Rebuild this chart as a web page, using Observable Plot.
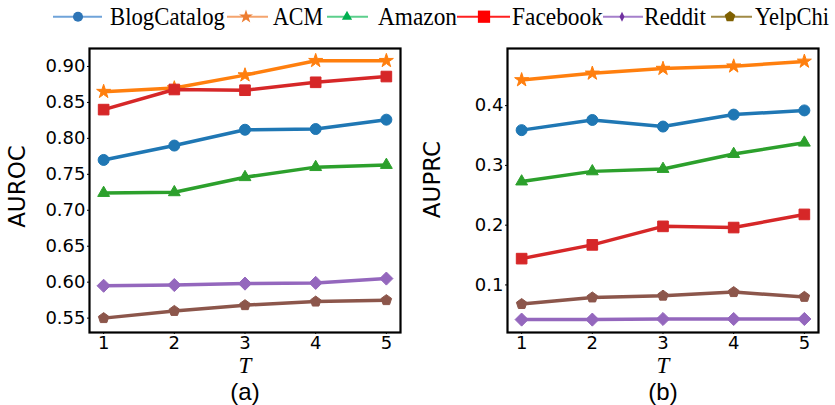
<!DOCTYPE html>
<html><head><meta charset="utf-8">
<script src="https://cdn.jsdelivr.net/npm/d3@7"></script>
<script src="https://cdn.jsdelivr.net/npm/@observablehq/plot@0.6"></script>
<style>
body{margin:0;background:#fff;}
#root{position:relative;width:835px;height:405px;overflow:hidden;background:#fff;}
#legend{position:absolute;left:0;top:0;}
#pa{position:absolute;left:0;top:35px;}
#pb{position:absolute;left:420px;top:35px;}
</style></head><body>
<div id="root"><div id="legend"></div><div id="pa"></div><div id="pb"></div></div>
<script>
// ---------- data ----------
const T = [1, 2, 3, 4, 5];
const datasets = ["BlogCatalog", "ACM", "Amazon", "Facebook", "Reddit", "YelpChi"];

const aurocBlogCatalog = [0.770, 0.790, 0.812, 0.813, 0.826];
const aurocACM         = [0.865, 0.870, 0.888, 0.908, 0.908];
const aurocAmazon      = [0.724, 0.725, 0.746, 0.760, 0.763];
const aurocFacebook    = [0.840, 0.868, 0.867, 0.878, 0.886];
const aurocReddit      = [0.595, 0.596, 0.598, 0.599, 0.605];
const aurocYelpChi     = [0.550, 0.560, 0.568, 0.573, 0.575];

const auprcBlogCatalog = [0.359, 0.376, 0.365, 0.385, 0.392];
const auprcACM         = [0.443, 0.454, 0.462, 0.466, 0.474];
const auprcAmazon      = [0.273, 0.290, 0.294, 0.319, 0.338];
const auprcFacebook    = [0.144, 0.167, 0.198, 0.196, 0.218];
const auprcReddit      = [0.042, 0.042, 0.043, 0.043, 0.043];
const auprcYelpChi     = [0.068, 0.079, 0.082, 0.088, 0.080];

const aurocTicks = [0.55, 0.60, 0.65, 0.70, 0.75, 0.80, 0.85, 0.90];
const auprcTicks = [0.1, 0.2, 0.3, 0.4];

// ---------- styles ----------
const plotColors = ["#1f77b4", "#ff7f0e", "#2ca02c", "#d62728", "#9467bd", "#8c564b"];
const legendMarkerColors = ["#2e75b6", "#ed7d31", "#00b050", "#ff0000", "#7030a0", "#7f6000"];
const legendLineColors = ["#6fa3d9", "#f4a46e", "#5ccf8c", "#ff2020", "#a57fcb", "#a08a45"];

const pentagon = {draw(ctx, size) {
  const R = Math.sqrt(size / (2.5 * Math.sin(2 * Math.PI / 5)));
  for (let i = 0; i < 5; i++) {
    const a = -Math.PI / 2 + i * 2 * Math.PI / 5;
    const x = R * Math.cos(a), y = R * Math.sin(a);
    i ? ctx.lineTo(x, y) : ctx.moveTo(x, y);
  }
  ctx.closePath();
}};
const thinDiamond = {draw(ctx, size) {
  const h = Math.sqrt(size) * 0.9, w = h * 0.5;
  ctx.moveTo(0, -h); ctx.lineTo(w, 0); ctx.lineTo(0, h); ctx.lineTo(-w, 0); ctx.closePath();
}};
const plotSymbols = ["circle", "star", "triangle", "square", "diamond2", pentagon];
const plotR = [5.5, 4.4, 4.4, 6.0, 5.9, 4.8];

const aurocSeries = [aurocBlogCatalog, aurocACM, aurocAmazon, aurocFacebook, aurocReddit, aurocYelpChi];
const auprcSeries = [auprcBlogCatalog, auprcACM, auprcAmazon, auprcFacebook, auprcReddit, auprcYelpChi];

function rows(series) {
  return datasets.map((name, k) => T.map((t, i) => ({name, t, v: series[k][i]})));
}

function panel(series, opts) {
  const data = rows(series);
  const marks = [];
  data.forEach((d, k) => {
    marks.push(Plot.line(d, {x: "t", y: "v", stroke: plotColors[k], strokeWidth: 3.5}));
    marks.push(Plot.dot(d, {x: "t", y: "v", symbol: plotSymbols[k], r: plotR[k], fill: plotColors[k], stroke: plotColors[k], strokeWidth: 1}));
  });
  marks.push(Plot.frame({stroke: "black", strokeWidth: 2.2}));
  marks.push(Plot.axisY({ticks: opts.ticks, tickFormat: d3.format(opts.fmt), tickSize: 2, tickPadding: 2, fontSize: 18, label: null}));
  marks.push(Plot.axisX({ticks: T, tickFormat: d => String(d), tickSize: 2, tickPadding: 2, fontSize: 18, label: null}));
  marks.push(Plot.text([opts.ylabel], {text: d => d, frameAnchor: "left", rotate: -90, dx: opts.ylx, dy: opts.yly, fontSize: 23, textAnchor: "middle", lineAnchor: "middle", fill: "black"}));
  marks.push(Plot.text(["T"], {text: d => d, frameAnchor: "bottom", dy: 40, fontSize: 23, fontStyle: "italic", fontFamily: "Liberation Serif", textAnchor: "middle", lineAnchor: "bottom", fill: "black"}));
  marks.push(Plot.text([opts.caption], {text: d => d, frameAnchor: "bottom", dy: 67, fontSize: 24, fontFamily: "Liberation Sans", textAnchor: "middle", lineAnchor: "bottom", fill: "black"}));
  return Plot.plot({
    width: opts.width, height: 370,
    marginTop: 13, marginBottom: 73, marginLeft: opts.ml, marginRight: opts.mr,
    style: {fontFamily: "DejaVu Sans", color: "black", background: "white"},
    x: {domain: [0.8, 5.2]},
    y: {domain: opts.domain},
    marks
  });
}

document.getElementById("pa").append(panel(aurocSeries, {
  width: 420, ml: 89, mr: 20, domain: [0.530, 0.925], ticks: aurocTicks, fmt: ".2f",
  ylabel: "AUROC", ylx: -72, yly: -4, caption: "(a)"
}));
document.getElementById("pb").append(panel(auprcSeries, {
  width: 415, ml: 87, mr: 17, domain: [0.0204, 0.4956], ticks: auprcTicks, fmt: ".1f",
  ylabel: "AUPRC", ylx: -75, yly: -11, caption: "(b)"
}));

// ---------- legend ----------
const legendLayout = [
  {x0: 53, x1: 102, mx: 78, tx: 110, tw: 115, size: 80},
  {x0: 227, x1: 268, mx: 246, tx: 273, tw: 50, size: 60},
  {x0: 327, x1: 368, mx: 347, tx: 378, tw: 79, size: 45},
  {x0: 457, x1: 510, mx: 484, tx: 512, tw: 91, size: 150},
  {x0: 603, x1: 643, mx: 622, tx: 644, tw: 62, size: 30},
  {x0: 711, x1: 752, mx: 730, tx: 755, tw: 74, size: 75}
];
const legendSymbols = [d3.symbolCircle, d3.symbolStar, d3.symbolTriangle, d3.symbolSquare, thinDiamond, pentagon];
const lsvg = d3.select("#legend").append("svg").attr("width", 835).attr("height", 35);
datasets.forEach((name, k) => {
  const L = legendLayout[k];
  lsvg.append("line").attr("x1", L.x0).attr("x2", L.x1).attr("y1", 16.7).attr("y2", 16.7)
    .attr("stroke", legendLineColors[k]).attr("stroke-width", 2);
  lsvg.append("path").attr("d", d3.symbol(legendSymbols[k], L.size)())
    .attr("transform", `translate(${L.mx},16.7)`).attr("fill", legendMarkerColors[k]);
  const g = lsvg.append("g");
  const t = g.append("text").attr("x", 0).attr("y", 0).text(name)
    .attr("font-family", "Liberation Serif").attr("font-size", 25.5).attr("fill", "black");
  const natural = t.node().getComputedTextLength() || L.tw;
  g.attr("transform", `translate(${L.tx},24.5) scale(${L.tw / natural},1)`);
});
</script>
</body></html>
